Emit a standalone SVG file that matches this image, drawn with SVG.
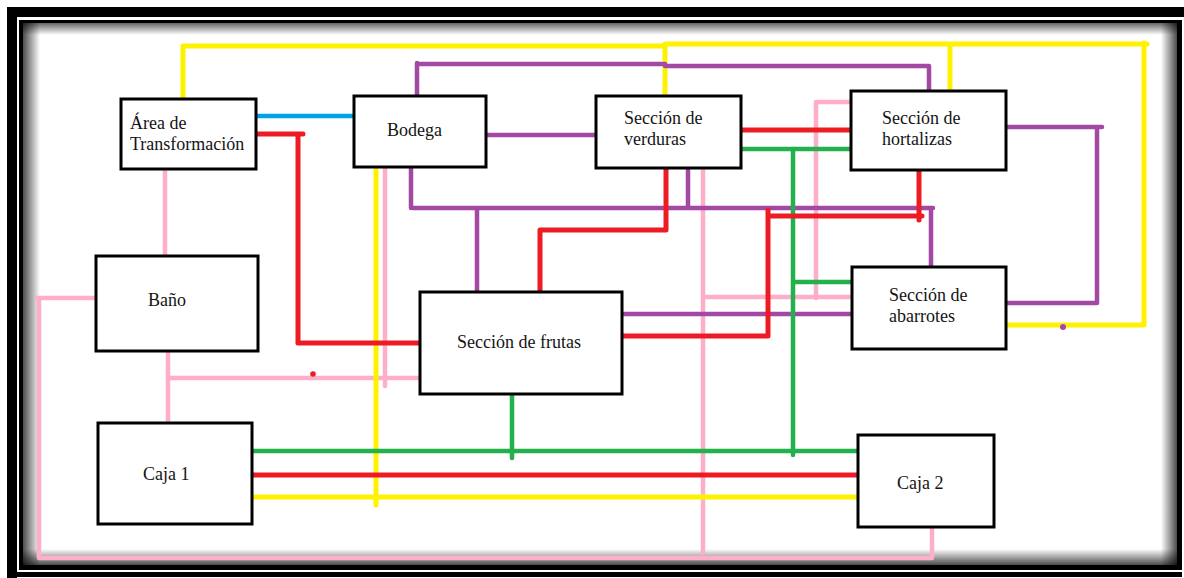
<svg xmlns="http://www.w3.org/2000/svg" width="1184" height="578" viewBox="0 0 1184 578">
  <defs>
    <linearGradient id="gl" x1="0" y1="0" x2="1" y2="0"><stop offset="0" stop-color="#000" stop-opacity="0.7"/><stop offset="1" stop-color="#000" stop-opacity="0"/></linearGradient>
    <linearGradient id="gr" x1="1" y1="0" x2="0" y2="0"><stop offset="0" stop-color="#000" stop-opacity="0.7"/><stop offset="1" stop-color="#000" stop-opacity="0"/></linearGradient>
    <linearGradient id="gt" x1="0" y1="0" x2="0" y2="1"><stop offset="0" stop-color="#000" stop-opacity="0.6"/><stop offset="1" stop-color="#000" stop-opacity="0"/></linearGradient>
    <linearGradient id="gb" x1="0" y1="1" x2="0" y2="0"><stop offset="0" stop-color="#000" stop-opacity="0.7"/><stop offset="1" stop-color="#000" stop-opacity="0"/></linearGradient>
  </defs>
  <style>
    .box { fill: #fff; stroke: #000; stroke-width: 3; }
    .lbl { font-family: "Liberation Serif", "Times New Roman", serif; font-size: 18px; fill: #141414; }
    .c { fill: none; stroke-linecap: round; stroke-linejoin: round; }
    .y { stroke: #FFF200; stroke-width: 5; }
    .r { stroke: #ED1C24; stroke-width: 5; }
    .p { stroke: #A349A4; stroke-width: 4.5; }
    .g { stroke: #22B14C; stroke-width: 4.5; }
    .k { stroke: #FFAEC9; stroke-width: 4.5; }
    .b { stroke: #00A2E8; stroke-width: 4.5; }
  </style>
  <rect x="0" y="0" width="1184" height="578" fill="#fff"/>
  <g id="frame">
    <rect x="7" y="7" width="10" height="571" fill="#000"/>
    <rect x="7" y="7" width="1177" height="10" fill="#000"/>
    <rect x="17" y="572" width="1165" height="5" fill="#000"/>
    <rect x="19" y="20" width="1163" height="550" fill="#000"/>
    <rect x="23" y="23" width="1154" height="542" fill="#fff"/>
    <rect x="23" y="23" width="17" height="542" fill="url(#gl)"/>
    <rect x="23" y="23" width="1154" height="12" fill="url(#gt)"/>
    <rect x="1161" y="23" width="16" height="542" fill="url(#gr)"/>
    <rect x="23" y="549" width="1154" height="16" fill="url(#gb)"/>
  </g>
  <g id="connectors">
    <!-- pink -->
    <path class="c k" d="M165,169 V256"/>
    <path class="c k" d="M96,298 H37 M39,298 V558 H932 V527"/>
    <path class="c k" d="M168,351 V423 M170,378 H425"/>
    <path class="c k" d="M385,168 V386"/>
    <path class="c k" d="M703,168 V553 M703,297 H862"/>
    <path class="c k" d="M860,102 H816 V298"/>
    <!-- yellow -->
    <path class="c y" d="M183,99 V46 H665 M665,96 V45 M665,44 H1147 M950,91 V44 M1144,43 V325 H1008"/>
    <path class="c y" d="M376,170 V505"/>
    <path class="c y" d="M252,497 H858"/>
    <!-- blue -->
    <path class="c b" d="M256,116 H355"/>
    <!-- purple -->
    <path class="c p" d="M417,96 V63 M419,64 H665 M665,66 H929 V93"/>
    <path class="c p" d="M486,135 H596"/>
    <path class="c p" d="M411,168 V208 M413,208 H933 M931,208 V267 M688,168 V208 M477,208 V300"/>
    <path class="c p" d="M622,314 H852"/>
    <path class="c p" d="M1006,127 H1102 M1097,127 V303 H1006"/>
    <!-- green -->
    <path class="c g" d="M741,149 H853"/>
    <path class="c g" d="M793,149 V455 M795,282 H852"/>
    <path class="c g" d="M252,451 H858"/>
    <path class="c g" d="M512,394 V458"/>
    <!-- red -->
    <path class="c r" d="M256,134 H303 M298,134 V343 H420"/>
    <path class="c r" d="M540,292 V230 H666 V168"/>
    <path class="c r" d="M741,130 H851"/>
    <path class="c r" d="M919,170 V220 M770,216 H922 M768,210 V336 H622"/>
    <path class="c r" d="M252,475 H858"/>
    <circle cx="313" cy="374" r="2.8" fill="#ED1C24"/>
    <circle cx="1063" cy="327" r="3" fill="#A349A4"/>
  </g>
  <g id="area-transformacion">
    <rect class="box" x="121" y="99" width="135" height="70"/>
    <text class="lbl" x="130" y="129">Área de</text>
    <text class="lbl" x="130" y="150">Transformación</text>
  </g>
  <g id="bodega">
    <rect class="box" x="354" y="96" width="132" height="71"/>
    <text class="lbl" x="387" y="136">Bodega</text>
  </g>
  <g id="seccion-verduras">
    <rect class="box" x="596" y="96" width="145" height="72"/>
    <text class="lbl" x="624" y="124">Sección de</text>
    <text class="lbl" x="624" y="145">verduras</text>
  </g>
  <g id="seccion-hortalizas">
    <rect class="box" x="851" y="91" width="155" height="79"/>
    <text class="lbl" x="882" y="124">Sección de</text>
    <text class="lbl" x="882" y="145">hortalizas</text>
  </g>
  <g id="bano">
    <rect class="box" x="96" y="256" width="162" height="95"/>
    <text class="lbl" x="148" y="306">Baño</text>
  </g>
  <g id="seccion-frutas">
    <rect class="box" x="420" y="292" width="202" height="102"/>
    <text class="lbl" x="457" y="348">Sección de frutas</text>
  </g>
  <g id="seccion-abarrotes">
    <rect class="box" x="852" y="267" width="154" height="82"/>
    <text class="lbl" x="889" y="301">Sección de</text>
    <text class="lbl" x="889" y="322">abarrotes</text>
  </g>
  <g id="caja-1">
    <rect class="box" x="98" y="423" width="154" height="101"/>
    <text class="lbl" x="143" y="480">Caja 1</text>
  </g>
  <g id="caja-2">
    <rect class="box" x="858" y="435" width="136" height="92"/>
    <text class="lbl" x="897" y="489">Caja 2</text>
  </g>
</svg>
